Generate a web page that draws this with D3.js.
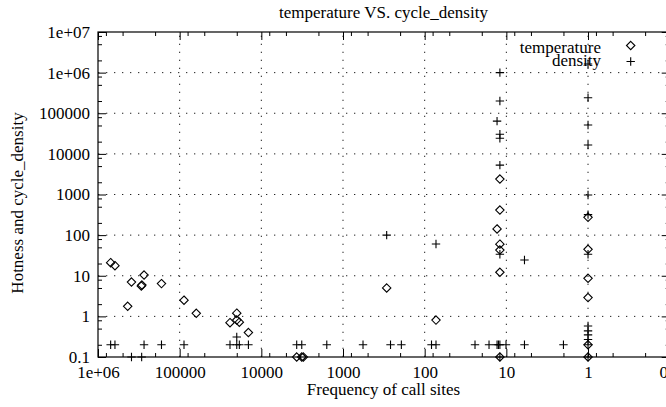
<!DOCTYPE html>
<html><head><meta charset="utf-8">
<script src="https://cdn.jsdelivr.net/npm/d3@7"></script>
<style>body{margin:0;background:#fff}svg{display:block}</style>
</head><body><svg id="c" width="666" height="407"></svg>
<script>
// ---- data ----
const tempX = [700000, 620000, 389000, 273000, 290000, 295000, 167000, 433000, 88500, 62600,
  20000, 24200, 20000, 18600, 14400, 3690, 3200, 3060, 292, 72.7,
  12, 12, 13, 12, 12, 12, 12, 1, 1, 1, 1, 1, 1];
const tempY = [21, 17.7, 7.0, 10.4, 5.9, 5.6, 6.4, 1.77, 2.5, 1.19,
  1.2, 0.70, 0.81, 0.72, 0.40, 0.1, 0.1, 0.1, 5.0, 0.81,
  2400, 415, 142, 60, 43, 12.2, 0.1, 274, 44.8, 8.65, 2.9, 0.2, 0.1];
const densX = [700000, 620000, 273000, 167000, 88500, 24200, 20000, 18600, 14400, 3690,
  3200, 1580, 569, 262, 193, 82.5, 72.7, 24.2, 16.3, 13.0,
  12.5, 12.0, 10.1, 6.0, 2.0, 1.0,
  389000, 292000, 12, 1,
  20000, 292, 72.7, 6.0, 12, 12, 13, 12, 12, 12, 12,
  1, 1, 1, 1, 1, 1, 1, 1, 1, 1, 1];
const densY = [0.2, 0.2, 0.2, 0.2, 0.2, 0.2, 0.2, 0.2, 0.2, 0.2,
  0.2, 0.2, 0.2, 0.2, 0.2, 0.2, 0.2, 0.2, 0.2, 0.2,
  0.2, 0.2, 0.2, 0.2, 0.2, 0.2,
  0.1, 0.1, 0.1, 0.1,
  0.31, 100, 60.5, 24.4, 1.0e6, 200000, 64000, 30300, 24200, 5300, 33.7,
  1.63e6, 241000, 51400, 16500, 973, 320, 33.7, 0.58, 0.44, 0.35, 0.27];
const seriesNames = ["temperature", "density"];
const xTickValues = [1e6, 1e5, 1e4, 1e3, 100, 10, 1, 0.1];
const xTickLabels = ["1e+06", "100000", "10000", "1000", "100", "10", "1", "0.1"];
const yTickValues = [0.1, 1, 10, 100, 1000, 10000, 100000, 1e6, 1e7];
const yTickLabels = ["0.1", "1", "10", "100", "1000", "10000", "100000", "1e+06", "1e+07"];
const minorMultiples = [2, 5, 8];
const titleText = "temperature VS. cycle_density";
const xLabelText = "Frequency of call sites";
const yLabelText = "Hotness and cycle_density";

// ---- layout ----
const L = 98, R = 669.7, T = 32, B = 357;
const FONT = "'Liberation Serif','Times New Roman',serif";
const FS = 17;
const svg = d3.select("#c");
const x = d3.scaleLog().domain([1e6, 0.1]).range([L, R]);
const y = d3.scaleLog().domain([0.1, 1e7]).range([B, T]);

const minorX = [], minorY = [];
for (let e = -1; e < 6; e++) minorMultiples.forEach(m => minorX.push(m * Math.pow(10, e)));
for (let e = -1; e < 7; e++) minorMultiples.forEach(m => minorY.push(m * Math.pow(10, e)));

// grid
const grid = svg.append("g").attr("stroke", "#222").attr("stroke-width", 1)
  .attr("stroke-dasharray", "1.3 6.7");
xTickValues.slice(1, -1).forEach(v => grid.append("line")
  .attr("x1", x(v)).attr("x2", x(v)).attr("y1", B).attr("y2", T));
yTickValues.slice(1, -1).forEach(v => grid.append("line")
  .attr("x1", L).attr("x2", R).attr("y1", y(v)).attr("y2", y(v)));

function styleAxis(g) {
  g.select(".domain").remove();
  g.selectAll("line").attr("stroke", "#000").attr("stroke-width", 1);
  g.selectAll("text").attr("font-family", FONT).attr("font-size", FS).attr("fill", "#000");
}
// bottom
svg.append("g").attr("transform", `translate(0,${B})`)
  .call(d3.axisBottom(x).tickValues(xTickValues).tickSize(-8).tickPadding(9)
    .tickFormat((d, i) => xTickLabels[i])).call(styleAxis);
svg.append("g").attr("transform", `translate(0,${B})`)
  .call(d3.axisBottom(x).tickValues(minorX).tickSize(-4).tickFormat("")).call(styleAxis);
// top
svg.append("g").attr("transform", `translate(0,${T})`)
  .call(d3.axisTop(x).tickValues(xTickValues).tickSize(-8).tickFormat("")).call(styleAxis);
svg.append("g").attr("transform", `translate(0,${T})`)
  .call(d3.axisTop(x).tickValues(minorX).tickSize(-4).tickFormat("")).call(styleAxis);
// left
svg.append("g").attr("transform", `translate(${L},0)`)
  .call(d3.axisLeft(y).tickValues(yTickValues).tickSize(-8).tickPadding(8)
    .tickFormat((d, i) => yTickLabels[i])).call(styleAxis);
svg.append("g").attr("transform", `translate(${L},0)`)
  .call(d3.axisLeft(y).tickValues(minorY).tickSize(-4).tickFormat("")).call(styleAxis);
// right
svg.append("g").attr("transform", `translate(${R},0)`)
  .call(d3.axisRight(y).tickValues(yTickValues).tickSize(-8).tickFormat("")).call(styleAxis);
svg.append("g").attr("transform", `translate(${R},0)`)
  .call(d3.axisRight(y).tickValues(minorY).tickSize(-4).tickFormat("")).call(styleAxis);

// border
svg.append("rect").attr("x", L).attr("y", T).attr("width", R - L).attr("height", B - T)
  .attr("fill", "none").attr("stroke", "#000").attr("stroke-width", 1.2);

// markers
const D = 4.2, C = 4.2;
const diamond = (cx, cy) => `M${cx},${cy - D}L${cx + D},${cy}L${cx},${cy + D}L${cx - D},${cy}Z`;
const cross = (cx, cy) => `M${cx - C},${cy}H${cx + C}M${cx},${cy - C}V${cy + C}`;
const tempPts = tempX.map((v, i) => [v, tempY[i]]);
const densPts = densX.map((v, i) => [v, densY[i]]);
svg.append("g").selectAll("path").data(tempPts).join("path")
  .attr("d", d => diamond(x(d[0]), y(d[1])))
  .attr("fill", "none").attr("stroke", "#000").attr("stroke-width", 1.1);
svg.append("g").selectAll("path").data(densPts).join("path")
  .attr("d", d => cross(x(d[0]), y(d[1])))
  .attr("fill", "none").attr("stroke", "#000").attr("stroke-width", 1.1);

// legend
const lg = svg.append("g").attr("font-family", FONT).attr("font-size", FS);
lg.append("text").attr("x", 601).attr("y", 53).attr("text-anchor", "end").text(seriesNames[0]);
lg.append("text").attr("x", 601).attr("y", 66).attr("text-anchor", "end").text(seriesNames[1]);
lg.append("path").attr("d", diamond(630.7, 45.5)).attr("fill", "none").attr("stroke", "#000").attr("stroke-width", 1.1);
lg.append("path").attr("d", cross(630.7, 61.5)).attr("fill", "none").attr("stroke", "#000").attr("stroke-width", 1.1);

// titles
svg.append("text").attr("x", 383.5).attr("y", 18).attr("text-anchor", "middle")
  .attr("font-family", FONT).attr("font-size", FS).text(titleText);
svg.append("text").attr("x", 383.5).attr("y", 395).attr("text-anchor", "middle")
  .attr("font-family", FONT).attr("font-size", FS).text(xLabelText);
svg.append("text").attr("transform", "translate(23,203) rotate(-90)").attr("text-anchor", "middle")
  .attr("font-family", FONT).attr("font-size", FS).text(yLabelText);
</script>
</body></html>
